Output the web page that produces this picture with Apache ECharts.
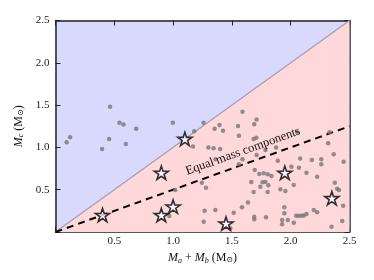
<!DOCTYPE html>
<html><head><meta charset="utf-8">
<script src="https://cdn.jsdelivr.net/npm/echarts@6/dist/echarts.min.js"></script>
<style>html,body{margin:0;padding:0;background:#fff}#c{width:374px;height:280px}</style>
</head><body><div id="c"></div>
<script>
const xTicks = [0, 0.5, 1.0, 1.5, 2.0, 2.5];
const yTicks = [0, 0.5, 1.0, 1.5, 2.0, 2.5];
const diagonal = [[0, 0], [2.5, 2.5]];
const equalMass = [[0, 0], [2.5, 1.25]];
const labelSpan = [[0.76, 0.38], [2.5, 1.25]];
const dotPoints = [
  [0.095,1.06],[0.124,1.12],[0.396,0.98],[0.456,1.10],[0.464,1.48],[0.544,1.29],[0.578,1.27],[0.598,1.04],[0.686,1.22],[0.998,1.29],[1.259,1.29],[1.18,1.19],
  [1.169,1.01],[1.30,1.00],[1.344,0.99],[1.40,0.98],[1.353,1.22],[1.395,1.265],[1.424,1.197],[1.552,1.253],[1.56,1.138],[1.59,1.42],[1.69,1.273],[1.71,1.33],[1.685,1.10],[1.708,1.115],[1.36,0.86],[1.59,0.86],[1.71,0.91],[1.785,0.97],[1.876,1.0],[1.89,0.843],[2.054,1.178],[2.33,1.18],[2.318,1.048],[2.366,0.92],[2.45,0.83],[2.08,0.87],[2.18,0.85],[2.26,0.86],[2.26,0.80],[2.07,0.76],[2.134,0.70],[2.006,0.772],[1.56,0.80],
  [1.694,0.733],[1.733,0.686],[1.77,0.694],[1.804,0.682],[1.836,0.662],[1.665,0.59],[1.76,0.587],[1.785,0.59],[1.81,0.552],[1.742,0.535],[1.685,0.473],[1.804,0.473],[1.637,0.35],[1.69,0.18],[1.69,0.15],[1.79,0.174],[1.912,0.505],[1.955,0.485],[2.026,0.556],[2.225,0.654],[2.375,0.583],[2.395,0.512],[2.41,0.497],[2.446,0.311],[2.438,0.13],[2.347,0.063],[1.946,0.292],[1.946,0.221],[1.927,0.142],[1.927,0.091],[1.975,0.142],[2.026,0.11],[2.046,0.193],[2.068,0.193],[2.091,0.193],[2.111,0.195],[2.134,0.213],[2.196,0.26],[2.225,0.233],
  [1.245,0.583],[1.28,0.524],[1.018,0.496],[0.967,0.19],[1.268,0.252],[1.359,0.26],[1.26,0.122],[1.486,0.044],[1.515,0.228],[1.586,0.292]
];
const starPoints = [[0.4,0.2],[0.9,0.2],[1.0,0.3],[0.9,0.7],[1.1,1.1],[1.45,0.1],[1.95,0.7],[2.35,0.4]];
const equalMassLabel = 'Equal mass components';

const SERIF = "'Liberation Serif','DejaVu Serif',serif";
const starPath = 'path://M100,0 L122.45,69.1 L195.1,69.1 L136.3,111.8 L158.8,180.9 L100,138.2 L41.2,180.9 L63.7,111.8 L4.9,69.1 L77.55,69.1 Z';
const frame = {show: true, onZero: false, lineStyle: {color: '#222', width: 1.5}};
const tick = {show: true, inside: true, length: 5, lineStyle: {color: '#222', width: 1}};
const fmt = v => (v === 0 ? '' : v.toFixed(1));
const rich = {
  i: {fontFamily: SERIF, fontStyle: 'italic', fontSize: 12, color: '#111'},
  n: {fontFamily: SERIF, fontSize: 12, color: '#111'},
  s: {fontFamily: SERIF, fontSize: 8, color: '#111', padding: [5, 0, 0, 0]},
  si: {fontFamily: SERIF, fontStyle: 'italic', fontSize: 8, color: '#111', padding: [5, 0, 0, 0]}
};
const chart = echarts.init(document.getElementById('c'), null, {renderer: 'canvas'});
chart.setOption({
  animation: false,
  grid: {left: 55.5, right: 24.5, top: 20.5, bottom: 48, show: true, backgroundColor: '#d9d9fe', borderWidth: 0},
  xAxis: [
    {type: 'value', min: xTicks[0], max: xTicks[xTicks.length - 1], interval: 0.5, position: 'bottom',
     axisLine: frame, axisTick: tick, splitLine: {show: false},
     axisLabel: {formatter: fmt, fontFamily: SERIF, fontSize: 11, color: '#222', margin: 4},
     name: '{i|M}{si|a}{n| + }{i|M}{si|b}{n| (M}{s|⊙}{n|)}', nameLocation: 'middle', nameGap: 18,
     nameTextStyle: {rich: rich}},
    {type: 'value', min: xTicks[0], max: xTicks[xTicks.length - 1], interval: 0.5, position: 'top',
     axisLine: frame, axisTick: tick, axisLabel: {show: false}, splitLine: {show: false}}
  ],
  yAxis: [
    {type: 'value', min: yTicks[0], max: yTicks[yTicks.length - 1], interval: 0.5, position: 'left',
     axisLine: frame, axisTick: tick, splitLine: {show: false},
     axisLabel: {formatter: fmt, fontFamily: SERIF, fontSize: 11, color: '#222', margin: 6},
     name: '{i|M}{si|c}{n| (M}{s|⊙}{n|)}', nameLocation: 'middle', nameGap: 24, nameRotate: 90,
     nameTextStyle: {rich: rich}},
    {type: 'value', min: yTicks[0], max: yTicks[yTicks.length - 1], interval: 0.5, position: 'right',
     axisLine: frame, axisTick: tick, axisLabel: {show: false}, splitLine: {show: false}}
  ],
  series: [
    {type: 'line', data: diagonal, symbol: 'none', silent: true, z: 1,
     lineStyle: {color: '#a29cb4', width: 1.2},
     areaStyle: {color: '#ffd9d9', opacity: 1, origin: 'start'}},
    {type: 'line', data: equalMass, symbol: 'none', silent: true, z: 3,
     lineStyle: {color: '#000', width: 2, type: [7, 5]},
     markLine: {silent: true, symbol: 'none', animation: false,
       lineStyle: {color: 'rgba(0,0,0,0)', width: 0.01, type: 'solid'},
       label: {show: true, position: 'insideMiddleTop', distance: 6, formatter: equalMassLabel,
               fontFamily: SERIF, fontSize: 12.5, color: '#111'},
       data: [[{coord: labelSpan[0]}, {coord: labelSpan[1]}]]}},
    {type: 'scatter', data: dotPoints, symbol: 'circle', symbolSize: 4.5, z: 4,
     itemStyle: {color: '#777'}},
    {type: 'scatter', data: starPoints, symbol: starPath, symbolSize: 14, symbolKeepAspect: true, z: 5,
     itemStyle: {color: '#fff', borderColor: '#000', borderWidth: 1.6}}
  ]
});
</script></body></html>
